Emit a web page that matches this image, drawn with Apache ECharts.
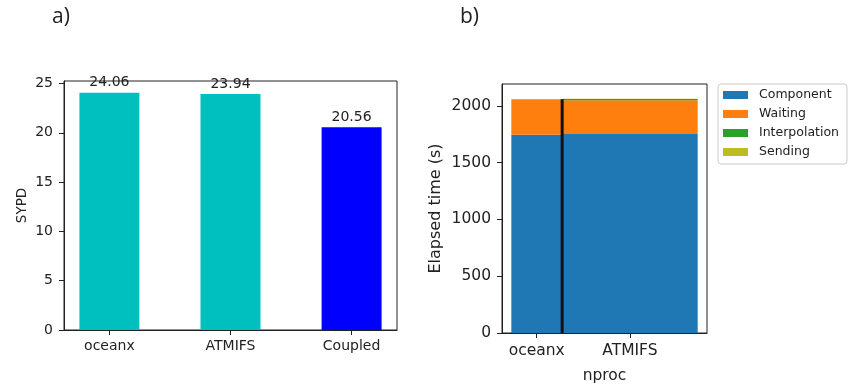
<!DOCTYPE html>
<html>
<head>
<meta charset="utf-8">
<script src="https://cdn.jsdelivr.net/npm/echarts@6/dist/echarts.min.js"></script>
<style>
  html, body { margin: 0; padding: 0; background: #fff; }
  #chart { width: 848px; height: 389px; }
</style>
</head>
<body>
<div id="chart"></div>
<script>
  // panel a) SYPD per run
  const runNames = ['oceanx', 'ATMIFS', 'Coupled'];
  const sypd = [24.06, 23.94, 20.56];
  const runColors = ['#00bfbf', '#00bfbf', '#0000ff'];
  const sypdTicks = [0, 5, 10, 15, 20, 25];

  // panel b) elapsed time split, bar width = nproc
  const procNames = ['oceanx', 'ATMIFS'];
  const nproc = [288, 768];
  const component = [1745, 1752];
  const waiting = [312, 296];
  const interpolation = [0, 12];
  const sending = [0, 2];
  const timeTicks = [0, 500, 1000, 1500, 2000];

  const parts = [
    {name: 'Component', values: component, color: '#1f77b4'},
    {name: 'Waiting', values: waiting, color: '#ff7f0e'},
    {name: 'Interpolation', values: interpolation, color: '#2ca02c'},
    {name: 'Sending', values: sending, color: '#bcbd22'}
  ];

  const txt = '#222';
  const font = 'DejaVu Sans';

  // x extents of the variable width bars
  const starts = [];
  let acc = 0;
  nproc.forEach(n => { starts.push(acc); acc += n; });
  const pad = acc * 0.05;
  const centers = nproc.map((n, i) => starts[i] + n / 2);

  const bottoms = nproc.map(() => 0);
  const stackSeries = parts.map(part => {
    const data = nproc.map((n, i) => {
      const y0 = bottoms[i];
      const y1 = y0 + part.values[i];
      bottoms[i] = y1;
      return [starts[i], starts[i] + n, y0, y1];
    });
    return {
      name: part.name,
      type: 'custom',
      xAxisIndex: 1,
      yAxisIndex: 1,
      itemStyle: {color: part.color},
      encode: {x: [0, 1], y: [2, 3]},
      renderItem: (params, api) => {
        const p0 = api.coord([api.value(0), api.value(3)]);
        const p1 = api.coord([api.value(1), api.value(2)]);
        return {
          type: 'rect',
          shape: {x: p0[0], y: p0[1], width: p1[0] - p0[0], height: p1[1] - p0[1]},
          style: {fill: part.color}
        };
      },
      data: data,
      animation: false
    };
  });

  const sepTop = bottoms[0];

  function axisBase() {
    return {
      axisLine: {show: true, onZero: false, lineStyle: {color: '#222'}},
      splitLine: {show: false}
    };
  }

  const chart = echarts.init(document.getElementById('chart'));

  const option = {
    backgroundColor: '#fff',
    textStyle: {fontFamily: font},
    title: [
      {text: 'a)', left: 47, top: 2, textStyle: {fontFamily: 'Open Sans', fontSize: 21, fontWeight: 'normal', color: txt}},
      {text: 'b)', left: 455, top: 2, textStyle: {fontFamily: 'Open Sans', fontSize: 21, fontWeight: 'normal', color: txt}}
    ],
    legend: {
      orient: 'vertical',
      left: 718,
      top: 84,
      data: parts.map(p => p.name),
      icon: 'rect',
      itemWidth: 25,
      itemHeight: 8,
      itemGap: 5,
      padding: [4, 8, 5, 5],
      borderColor: '#ccc',
      borderWidth: 1,
      borderRadius: 3,
      selectedMode: false,
      textStyle: {fontFamily: font, fontSize: 12.5, color: txt, lineHeight: 14, padding: [0, 0, 0, 6]}
    },
    grid: [
      {left: 64, top: 81, width: 333, height: 249, show: true, borderColor: '#222', borderWidth: 1},
      {left: 502, top: 84, width: 205, height: 250, show: true, borderColor: '#222', borderWidth: 1}
    ],
    xAxis: [
      Object.assign(axisBase(), {
        gridIndex: 0,
        type: 'value',
        min: -0.375,
        max: 2.375,
        axisTick: {show: true, length: 5, lineStyle: {color: '#222'}, customValues: [0, 1, 2]},
        axisLabel: {
          show: true, customValues: [0, 1, 2], margin: 9,
          fontFamily: font, fontSize: 14, color: txt,
          formatter: v => runNames[Math.round(v)]
        }
      }),
      Object.assign(axisBase(), {
        gridIndex: 1,
        type: 'value',
        min: -pad,
        max: acc + pad,
        name: 'nproc',
        nameLocation: 'middle',
        nameGap: 35,
        nameTextStyle: {fontFamily: font, fontSize: 15.5, color: txt},
        axisTick: {show: true, length: 5, lineStyle: {color: '#222'}, customValues: centers},
        axisLabel: {
          show: true, customValues: centers, margin: 10,
          fontFamily: font, fontSize: 15.5, color: txt,
          formatter: v => procNames[centers.findIndex(c => Math.abs(c - v) < 1)]
        }
      })
    ],
    yAxis: [
      Object.assign(axisBase(), {
        gridIndex: 0,
        type: 'value',
        min: 0,
        max: 25.26,
        name: 'SYPD',
        nameLocation: 'middle',
        nameGap: 35,
        nameTextStyle: {fontFamily: font, fontSize: 13.5, color: txt},
        axisTick: {show: true, length: 5, lineStyle: {color: '#222'}, customValues: sypdTicks},
        axisLabel: {show: true, customValues: sypdTicks, margin: 11, fontFamily: font, fontSize: 14, color: txt,
          formatter: v => String(v)}
      }),
      Object.assign(axisBase(), {
        gridIndex: 1,
        type: 'value',
        min: 0,
        max: 2192,
        name: 'Elapsed time (s)',
        nameLocation: 'middle',
        nameGap: 58,
        nameTextStyle: {fontFamily: font, fontSize: 16, color: txt},
        axisTick: {show: true, length: 5, lineStyle: {color: '#222'}, customValues: timeTicks},
        axisLabel: {show: true, customValues: timeTicks, margin: 11, fontFamily: font, fontSize: 15.5, color: txt,
          formatter: v => String(v)}
      })
    ],
    series: [
      {
        type: 'bar',
        xAxisIndex: 0,
        yAxisIndex: 0,
        barWidth: 60,
        data: sypd.map((v, i) => ({value: [i, v], itemStyle: {color: runColors[i]}})),
        label: {
          show: true, position: 'top', distance: 3,
          fontFamily: font, fontSize: 14, color: txt,
          formatter: p => p.value[1].toFixed(2)
        },
        animation: false
      },
      ...stackSeries,
      {
        type: 'line',
        xAxisIndex: 1,
        yAxisIndex: 1,
        data: [[nproc[0], 0], [nproc[0], sepTop]],
        symbol: 'none',
        lineStyle: {color: '#111', width: 3},
        z: 5,
        animation: false
      }
    ]
  };

  chart.setOption(option);
</script>
</body>
</html>
